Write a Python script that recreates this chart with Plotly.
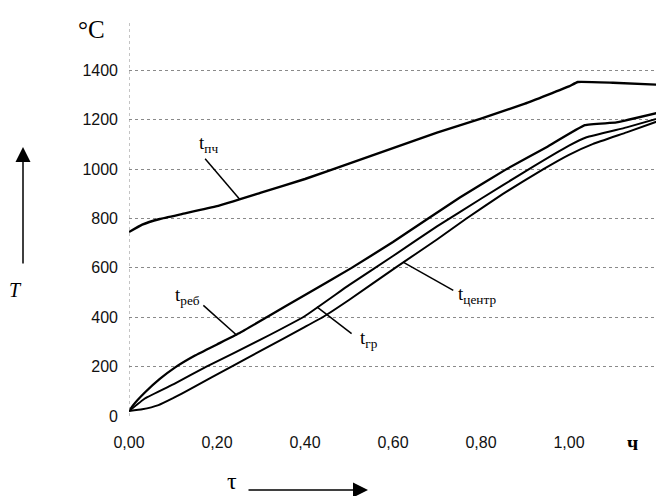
import plotly.graph_objects as go

# ---- data ----
tau_pch = [0, 0.03, 0.07, 0.12, 0.20, 0.30, 0.40, 0.50, 0.60, 0.70, 0.80, 0.90, 1.00, 1.02, 1.10, 1.216]
t_pch = [745, 775, 798, 818, 850, 905, 960, 1022, 1085, 1148, 1205, 1265, 1335, 1353, 1350, 1341]

tau_reb = [0, 0.01, 0.036, 0.07, 0.105, 0.15, 0.20, 0.25, 0.313, 0.40, 0.506, 0.60, 0.68, 0.752, 0.858, 0.95, 1.036, 1.108, 1.216]
t_reb = [20, 45, 95, 150, 197, 245, 290, 335, 400, 490, 600, 705, 800, 885, 1000, 1090, 1178, 1189, 1234]

tau_gr = [0, 0.036, 0.105, 0.176, 0.30, 0.40, 0.50, 0.60, 0.70, 0.80, 0.90, 1.00, 1.04, 1.131, 1.216]
t_gr = [20, 71, 132, 200, 310, 405, 530, 648, 768, 880, 990, 1095, 1129, 1169, 1212]

tau_centr = [0, 0.03, 0.067, 0.10, 0.142, 0.233, 0.30, 0.40, 0.44, 0.50, 0.605, 0.70, 0.767, 0.85, 0.942, 1.00, 1.055, 1.131, 1.216]
t_centr = [20, 27, 44, 72, 112, 200, 265, 361, 400, 470, 600, 715, 800, 900, 1000, 1058, 1102, 1149, 1203]

x_ticks = [0, 0.2, 0.4, 0.6, 0.8, 1.0]
x_tick_text = ["0,00", "0,20", "0,40", "0,60", "0,80", "1,00"]
y_ticks = [0, 200, 400, 600, 800, 1000, 1200, 1400]
y_tick_text = ["0", "200", "400", "600", "800", "1000", "1200", "1400"]

# page offset (browser body margin) and plot box in page pixels
OFF = 8
PL, PT, PB = 129, 21, 416          # plot left, top, bottom on the page
W, H = 664 - OFF, 496 - OFF
PW = W - (PL - OFF)
PH = PB - PT


def px(xp):
    return (xp - PL) / PW


def py(yp):
    return (PB - yp) / PH


fig = go.Figure()
for xs, ys, w in [(tau_pch, t_pch, 2.4), (tau_reb, t_reb, 2.3), (tau_gr, t_gr, 2.0), (tau_centr, t_centr, 2.0)]:
    fig.add_trace(go.Scatter(x=xs, y=ys, mode="lines",
                             line=dict(color="black", width=w, shape="spline", smoothing=0.3),
                             showlegend=False, hoverinfo="skip"))

serif = "Liberation Serif, Times New Roman, serif"
sans = "Liberation Sans, Arial, sans-serif"

fig.update_layout(
    width=W, height=H,
    margin=dict(l=PL - OFF, r=0, t=PT - OFF, b=H - (PB - OFF), autoexpand=False),
    paper_bgcolor="white", plot_bgcolor="white",
    xaxis=dict(range=[0, 1.216], tickvals=x_ticks, ticktext=x_tick_text,
               showgrid=False, zeroline=False, showline=False, ticks="",
               ticklabelstandoff=15,
               tickfont=dict(family=sans, size=16, color="#111")),
    yaxis=dict(range=[0, 1600], tickvals=y_ticks, ticktext=y_tick_text,
               showgrid=True, gridcolor="#8a8a8a", griddash="dot", gridwidth=1,
               zeroline=False, showline=False, ticks="",
               ticklabelstandoff=10,
               tickfont=dict(family=sans, size=16, color="#111")),
)

# dotted left axis line
fig.add_shape(type="line", xref="x", yref="y", x0=0, x1=0, y0=0, y1=1600,
              line=dict(color="#8a8a8a", width=1, dash="dot"))

# curve labels with leader lines
labels = [
    ("t<sub>пч</sub>", 0.180, 1100, (0.173, 1042), (0.252, 877)),
    ("t<sub>реб</sub>", 0.133, 485, (0.169, 448), (0.245, 327)),
    ("t<sub>гр</sub>", 0.546, 310, (0.427, 442), (0.506, 334)),
    ("t<sub>центр</sub>", 0.792, 490, (0.623, 623), (0.737, 509)),
]
for txt, lx, ly, p0, p1 in labels:
    fig.add_shape(type="line", xref="x", yref="y", x0=p0[0], y0=p0[1], x1=p1[0], y1=p1[1],
                  line=dict(color="black", width=1.5))
    fig.add_annotation(x=lx, y=ly, xref="x", yref="y", text=txt, showarrow=False,
                       font=dict(family=serif, size=19, color="black"))

# units and axis symbols
for txt, x0, y0, size in [("°C", 91, 29, 25), ("<i>T</i>", 15, 290, 20),
                          ("τ", 232, 481, 24), ("<b>ч</b>", 632, 443, 20)]:
    fig.add_annotation(x=px(x0), y=py(y0), xref="paper", yref="paper", text=txt,
                       showarrow=False, xanchor="center", yanchor="middle",
                       font=dict(family=serif, size=size, color="black"))

# axis direction arrows
fig.add_annotation(x=px(23), y=py(147), xref="paper", yref="paper",
                   ax=0, ay=118, text="", showarrow=True, arrowhead=2, arrowsize=2,
                   arrowwidth=1.5, arrowcolor="black")
fig.add_annotation(x=px(368), y=py(490), xref="paper", yref="paper",
                   ax=-121, ay=0, text="", showarrow=True, arrowhead=2, arrowsize=2,
                   arrowwidth=1.5, arrowcolor="black")

fig.write_html("out.html")
